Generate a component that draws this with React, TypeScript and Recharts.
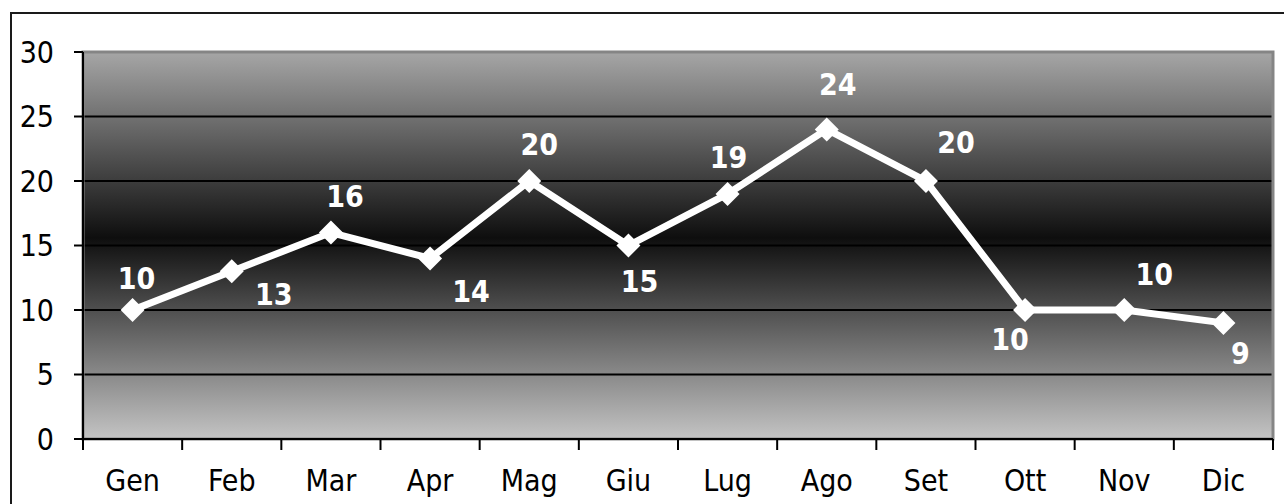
import { LineChart, Line, XAxis, YAxis, CartesianGrid, ReferenceArea, LabelList } from 'recharts';

const months = ['Gen', 'Feb', 'Mar', 'Apr', 'Mag', 'Giu', 'Lug', 'Ago', 'Set', 'Ott', 'Nov', 'Dic'];
const values = [10, 13, 16, 14, 20, 15, 19, 24, 20, 10, 10, 9];
const yTicks = [0, 5, 10, 15, 20, 25, 30];

// where each value label sits relative to its point (px)
const labelDx = [4, 42, 14, 41, 10, 11, 1, 11, 30, -15, 30, 17];
const labelDy = [-32, 23, -36, 33, -37, 36, -36, -45, -39, 29, -36, 31];

const data = months.map((month, i) => ({ month, value: values[i] }));

const FONT = '"DejaVu Sans Condensed", "DejaVu Sans", sans-serif';
const W = 1284;
const H = 504;
const PLOT_LEFT = 83;
const PLOT_W = 1190;
const BAND = PLOT_W / months.length;

function MonthTick(props: any) {
  const { x, y, payload, index } = props;
  const left = x - BAND / 2;
  const right = x + BAND / 2;
  return (
    <g>
      <line x1={left} x2={left} y1={y} y2={y + 11} stroke="#000" strokeWidth={2} />
      {index === months.length - 1 && (
        <line x1={right} x2={right} y1={y} y2={y + 11} stroke="#000" strokeWidth={2} />
      )}
      <text x={x} y={y + 41} textAnchor="middle" dominantBaseline="central" fill="#000" fontSize={30} fontFamily={FONT}>
        {payload.value}
      </text>
    </g>
  );
}

function ValueTick(props: any) {
  const { y, payload } = props;
  return (
    <text x={PLOT_LEFT - 29} y={y} textAnchor="end" dominantBaseline="central" fill="#000" fontSize={30} fontFamily={FONT}>
      {payload.value}
    </text>
  );
}

function Diamond(props: any) {
  const { cx, cy } = props;
  if (cx == null || cy == null) return null;
  const r = 12;
  return <path d={`M${cx},${cy - r}L${cx + r},${cy}L${cx},${cy + r}L${cx - r},${cy}Z`} fill="#fff" />;
}

function ValueLabel(props: any) {
  const { x, y, value, index } = props;
  return (
    <text
      x={x + labelDx[index]}
      y={y + labelDy[index]}
      textAnchor="middle"
      dominantBaseline="central"
      fill="#fff"
      fontWeight="bold"
      fontSize={30}
      fontFamily={FONT}
    >
      {value}
    </text>
  );
}

export default function App() {
  return (
    <div style={{ position: 'fixed', left: 0, top: 0, width: W, height: H, background: '#fff', overflow: 'hidden' }}>
      <div
        style={{
          position: 'absolute',
          left: 10,
          top: 12,
          width: W,
          height: H,
          border: '2px solid #1a1a1a',
        }}
      />
      <div style={{ position: 'absolute', left: 0, top: 0 }}>
        <LineChart width={W} height={H} data={data} margin={{ top: 52, right: 11, bottom: 5, left: 23 }}>
          <defs>
            <linearGradient id="plotBg" x1="0" y1="0" x2="0" y2="1">
              <stop offset="0" stopColor="#a6a6a6" />
              <stop offset="0.48" stopColor="#0e0e0e" />
              <stop offset="1" stopColor="#c4c4c4" />
            </linearGradient>
          </defs>
          <CartesianGrid vertical={false} stroke="#000" strokeWidth={2} fill="url(#plotBg)" fillOpacity={1} />
          <ReferenceArea y1={0} y2={30} fill="none" stroke="#858585" strokeWidth={3} />
          <XAxis
            dataKey="month"
            scale="band"
            height={60}
            tickLine={false}
            tickSize={0}
            tickMargin={0}
            axisLine={{ stroke: '#000', strokeWidth: 2 }}
            tick={<MonthTick />}
            interval={0}
          />
          <YAxis
            width={60}
            domain={[0, 30]}
            ticks={yTicks}
            tickSize={9}
            axisLine={{ stroke: '#000', strokeWidth: 2 }}
            tickLine={{ stroke: '#000', strokeWidth: 2 }}
            tick={<ValueTick />}
          />
          <Line
            type="linear"
            dataKey="value"
            stroke="#fff"
            strokeWidth={7}
            dot={<Diamond />}
            activeDot={false}
            isAnimationActive={false}
          >
            <LabelList dataKey="value" content={<ValueLabel />} />
          </Line>
        </LineChart>
      </div>
    </div>
  );
}
